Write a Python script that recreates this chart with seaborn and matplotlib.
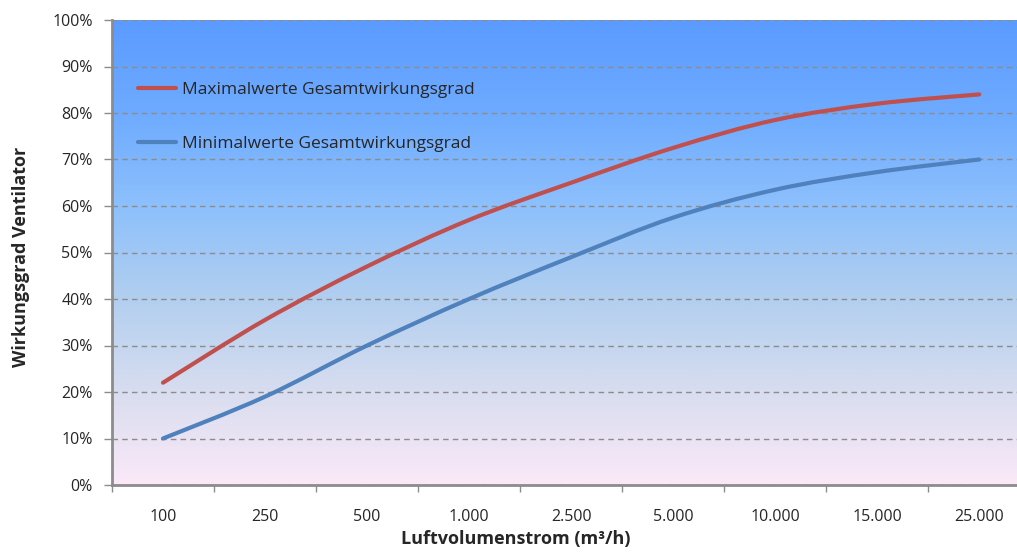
import numpy as np
import pandas as pd
import seaborn as sns
import matplotlib.pyplot as plt
from matplotlib.colors import LinearSegmentedColormap
from matplotlib.patches import PathPatch
from matplotlib.path import Path
from matplotlib.ticker import FixedLocator, PercentFormatter

# Data
luftvolumenstrom = ['100', '250', '500', '1.000', '2.500', '5.000', '10.000', '15.000', '25.000']
maximalwerte = [0.22, 0.355, 0.47, 0.57, 0.65, 0.725, 0.785, 0.82, 0.84]
minimalwerte = [0.10, 0.19, 0.30, 0.40, 0.49, 0.575, 0.635, 0.673, 0.70]
serien = ['Maximalwerte Gesamtwirkungsgrad', 'Minimalwerte Gesamtwirkungsgrad']
farben = ['#C0504D', '#4F81BD']

df = pd.DataFrame({
    'Luftvolumenstrom': luftvolumenstrom * 2,
    'Wirkungsgrad': maximalwerte + minimalwerte,
    'Serie': [serien[0]] * len(luftvolumenstrom) + [serien[1]] * len(luftvolumenstrom),
})

sns.set_theme(style='white')
plt.rcParams['font.family'] = ['Open Sans', 'DejaVu Sans']

fig = plt.figure(figsize=(10.17, 5.53), dpi=100)
ax = fig.add_axes([112 / 1017, 1 - 485 / 553, 1 - 112 / 1017, 465 / 553])

sns.lineplot(data=df, x='Luftvolumenstrom', y='Wirkungsgrad', hue='Serie',
             palette=farben, linewidth=3, sort=False, ax=ax)

xlim = (-0.5, 8.37)
ax.set_xlim(xlim)
ax.set_ylim(0, 1)

# gradient background
cmap = LinearSegmentedColormap.from_list('bg', [
    (0.0, '#FBE9F8'), (0.2, '#D8DDEF'), (0.4, '#B2CFEF'),
    (0.6, '#8DC0FC'), (0.8, '#6EABFF'), (1.0, '#5B9BFF')])
grad = np.linspace(0, 1, 256).reshape(-1, 1)
ax.imshow(grad, aspect='auto', cmap=cmap, origin='lower',
          extent=[xlim[0], xlim[1], 0, 1], zorder=-1)
ax.set_xlim(xlim)
ax.set_ylim(0, 1)

# axes styling
ax.yaxis.set_major_locator(FixedLocator(np.arange(0, 1.01, 0.1)))
ax.yaxis.set_major_formatter(PercentFormatter(1.0, decimals=0))
ax.yaxis.grid(True, linestyle=(0, (4, 3)), color='#8C8C8C', linewidth=1)
ax.set_axisbelow(True)
ax.xaxis.set_major_locator(FixedLocator(range(len(luftvolumenstrom))))
ax.set_xticklabels(luftvolumenstrom)
ax.xaxis.set_minor_locator(FixedLocator(np.arange(-0.5, 8.6, 1.0)))

for side in ['top', 'right']:
    ax.spines[side].set_visible(False)
for side in ['left', 'bottom']:
    ax.spines[side].set_color('#8C8C8C')
    ax.spines[side].set_linewidth(2)

ax.tick_params(axis='y', which='major', direction='out', length=6, width=1,
               color='#8C8C8C', left=True, pad=8, labelsize=11.5)
ax.tick_params(axis='x', which='major', length=0, pad=17, labelsize=11.5)
ax.tick_params(axis='x', which='minor', direction='out', length=5, width=1,
               color='#8C8C8C', bottom=True)

ax.set_xlabel('Luftvolumenstrom (m³/h)', fontsize=13, fontweight='bold')
ax.set_ylabel('Wirkungsgrad Ventilator', fontsize=13, fontweight='bold')
ax.xaxis.set_label_coords((516 - 112) / 905, -0.096)
ax.yaxis.set_label_coords(-0.091, 0.49)

handles, labels = ax.get_legend_handles_labels()
ax.legend(handles, labels, loc='upper left', bbox_to_anchor=(0.009, 0.905),
          frameon=False, fontsize=12.5, handlelength=2.2, handletextpad=0.35,
          labelspacing=2.2, borderaxespad=0.6)

# Excel-style smoothed lines: turn each seaborn line into a Bezier path
for line in ax.get_lines():
    if len(line.get_xdata()) < 3:
        continue
    pts = np.column_stack([line.get_xdata(), line.get_ydata()]).astype(float)
    n = len(pts)
    verts = [pts[0]]
    codes = [Path.MOVETO]
    for i in range(n - 1):
        p0 = pts[max(i - 1, 0)]
        p1 = pts[i]
        p2 = pts[i + 1]
        p3 = pts[min(i + 2, n - 1)]
        c1 = p1 + (p2 - p0) / 6.0
        c2 = p2 - (p3 - p1) / 6.0
        verts += [c1, c2, p2]
        codes += [Path.CURVE4] * 3
    patch = PathPatch(Path(verts, codes), facecolor='none', edgecolor=line.get_color(),
                      linewidth=line.get_linewidth(), capstyle='round', joinstyle='round',
                      zorder=line.get_zorder())
    ax.add_patch(patch)
    line.set_visible(False)

fig.savefig('out.png', dpi=100)
